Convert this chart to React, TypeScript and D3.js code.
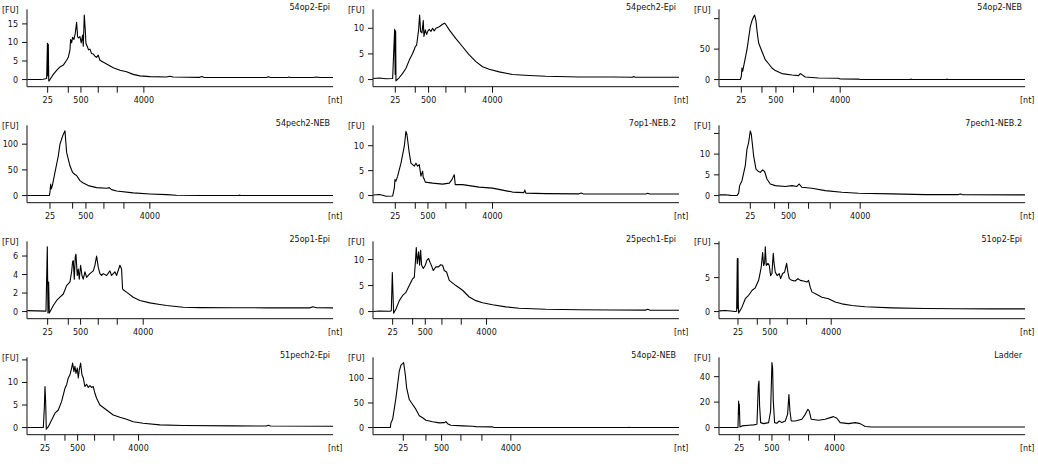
import React, { useEffect } from "react";
import * as d3 from "d3";

type Pt = [number, number];

// ---- DATA ----
const titles = [
  "54op2-Epi", "54pech2-Epi", "54op2-NEB",
  "54pech2-NEB", "7op1-NEB.2", "7pech1-NEB.2",
  "25op1-Epi", "25pech1-Epi", "51op2-Epi",
  "51pech2-Epi", "54op2-NEB", "Ladder",
];

const ladderSizes = [25, 200, 500, 1000, 2000, 4000];
const labeledSizes = [25, 500, 4000];

// migration time (s) of each ladder size, per sample
const ladderTimes: number[][] = [
  [22.15, 25.25, 27.15, 29.75, 32.6, 36.6],
  [22.4, 25.4, 27.4, 30.0, 32.9, 37.0],
  [22.4, 25.5, 27.6, 30.25, 33.25, 37.25],
  [22.5, 25.9, 27.9, 30.6, 33.6, 37.5],
  [22.4, 25.4, 27.3, 30.0, 33.0, 37.0],
  [23.75, 27.4, 29.5, 32.5, 35.75, 40.25],
  [22.15, 25.25, 27.1, 29.75, 32.6, 36.5],
  [22.0, 25.0, 26.9, 29.4, 32.3, 36.1],
  [21.9, 24.8, 26.7, 29.3, 32.2, 35.9],
  [21.75, 24.75, 26.65, 29.2, 32.1, 35.8],
  [23.6, 27.0, 29.35, 32.25, 35.4, 39.75],
  [22.1, 25.1, 27.0, 29.6, 32.5, 36.4],
];

const yMaxes = [19.2, 13.9, 117, 138.7, 14.3, 17.2, 7.7, 13.7, 10.5, 15.8, 145, 56];

const yTicks: number[][] = [
  [0, 5, 10, 15], [0, 5, 10], [0, 50, 100],
  [0, 50, 100], [0, 5, 10], [0, 5, 10, 15],
  [0, 2, 4, 6], [0, 5, 10], [0, 5, 10],
  [0, 5, 10, 15], [0, 50, 100], [0, 20, 40],
];

const trace54op2Epi: Pt[] = [
  [19.1, 0], [21.0, 0], [21.5, 0.1], [22.0, 0.3], [22.12, 9.8], [22.18, 1], [22.25, 9.5], [22.32, -0.4], [22.5, 0],
  [23.0, 1.4], [23.5, 2.5], [24.0, 3.4], [24.5, 3.9], [25.0, 5.2], [25.25, 6], [25.5, 8], [25.6, 10.8], [25.75, 9.9],
  [25.9, 11.4], [26.1, 10.8], [26.3, 12.5], [26.5, 15.4], [26.65, 11.5], [26.8, 11.2], [27.0, 11.6], [27.2, 9.9],
  [27.4, 12], [27.5, 9.0], [27.65, 17.4], [27.8, 13.4], [27.9, 9.8], [28.1, 8.9], [28.3, 8], [28.5, 8.2], [28.75, 7],
  [29.0, 6.9], [29.25, 6.3], [29.5, 6.0], [29.75, 6.6], [30.0, 5.2], [31.0, 4.2], [32.0, 3.2], [33.0, 2.5], [34.0, 2.1],
  [35.0, 1.4], [36.0, 1.0], [37.5, 0.8], [40.0, 0.7], [40.5, 0.9], [41.0, 0.7], [45.0, 0.6], [45.3, 0.8], [45.6, 0.6],
  [55, 0.55], [55.3, 0.75], [55.6, 0.55], [58.2, 0.55], [58.4, 0.7], [58.6, 0.55], [62, 0.55], [62.5, 0.7], [63, 0.55], [65, 0.55],
];

const trace54pech2Epi: Pt[] = [
  [19.1, 0.2], [20, 0.3], [21, 0.15], [22.0, 0.2], [22.3, 9.8], [22.38, 1], [22.45, 9.5], [22.5, -0.25],
  [23, 0.4], [23.5, 1.2], [24, 2.2], [24.5, 3.8], [25, 5.1], [25.4, 6.4], [25.6, 6.7], [25.9, 9.7], [26.05, 12.6],
  [26.2, 9.4], [26.4, 9.1], [26.6, 11.5], [26.7, 8.4], [26.9, 9.7], [27.1, 8.8], [27.3, 9.5], [27.5, 9.8], [27.75, 9.4],
  [28, 10], [28.25, 9.5], [28.5, 10], [29, 10.3], [29.5, 10.8], [29.8, 11], [30, 10.7], [30.5, 9.7], [31.5, 8],
  [32.5, 6.4], [33.5, 4.8], [34.5, 3.5], [35.5, 2.5], [36.5, 2.0], [38, 1.5], [40, 1.0], [42.5, 0.8], [45, 0.65],
  [50, 0.5], [55, 0.5], [58, 0.45], [58.2, 0.6], [58.4, 0.45], [65, 0.45],
];

const trace54op2NEB: Pt[] = [
  [19.1, 0], [22.25, 0], [22.4, 5], [22.5, 19], [22.6, 13.6], [22.75, 21.7], [23.25, 49], [23.75, 87], [24, 96.7],
  [24.25, 103], [24.4, 106], [24.6, 96.7], [24.8, 76], [25, 60], [25.5, 46], [26, 32.6], [26.5, 26], [27, 19],
  [27.5, 14.7], [28.5, 9.8], [30, 7.6], [31, 6.5], [31.25, 9.8], [31.5, 8.2], [32, 4.3], [34, 2.7], [37, 2.2],
  [37.25, 1], [40, 0.8], [40.25, 0], [47.8, 0], [47.9, 1], [48, 0], [53.2, 0], [53.3, 1], [53.4, 0], [65, 0],
];

const trace54pech2NEB: Pt[] = [
  [19.1, 0], [22.4, 0], [22.5, 6.5], [22.6, 22.6], [22.7, 13], [22.85, 19], [23.25, 45], [23.75, 77], [24, 100],
  [24.25, 110], [24.5, 119], [24.75, 126], [25, 84], [25.25, 71], [25.5, 58], [25.9, 45], [26.25, 41], [26.5, 39],
  [27, 29], [27.5, 24.5], [28.25, 19.4], [29.5, 15.5], [31, 14.2], [31.4, 15.5], [31.75, 11.6], [32.5, 9], [35, 5.2],
  [37.5, 3.2], [40, 1.9], [41.5, 0.6], [45, 0], [50.9, 0], [51, 1], [51.1, 0], [65, 0],
];

const trace7op1NEB2: Pt[] = [
  [19.1, 0.1], [20, 0.2], [20.5, 0.05], [21, -0.13], [22, -0.1], [22.25, 1.5], [22.35, 3.2], [22.5, 2.9], [22.75, 3.9],
  [23.25, 6.5], [23.75, 9.9], [24, 12.9], [24.15, 12.2], [24.5, 8.5], [24.75, 6.5], [25, 6.2], [25.25, 5.9], [25.5, 6.5],
  [25.75, 5.9], [26, 6.2], [26.25, 3.9], [26.5, 4.9], [26.6, 3.6], [26.75, 3.3], [26.9, 2.7], [28, 2.5], [29.5, 2.3],
  [30.5, 2.5], [30.9, 3.2], [31.25, 4.2], [31.4, 2.2], [32.5, 2.2], [34, 1.9], [35, 1.7], [37, 1.5], [38.5, 1.1],
  [40, 0.7], [41.7, 0.6], [41.85, 1.1], [42, 0.5], [45, 0.4], [50, 0.35], [50.3, 0.5], [50.6, 0.35], [55, 0.33], [60, 0.33],
  [60.3, 0.48], [60.6, 0.33], [65, 0.33],
];

const trace7pech1NEB2: Pt[] = [
  [19.1, 0.16], [20, 0.2], [20.8, 0.05], [21.75, 0], [22, 0.6], [22.15, 2.4], [22.5, 3.6], [23, 7.2], [23.25, 11.2],
  [23.5, 12.8], [23.75, 15.6], [23.9, 14.8], [24.25, 9.6], [24.6, 6.4], [25, 5.8], [25.25, 5.6], [25.6, 6.2],
  [25.9, 5.8], [26.25, 4], [26.75, 2.8], [27.5, 2.4], [29, 2.2], [30, 2.4], [30.75, 2.2], [31.1, 2.8], [31.5, 2.0],
  [33, 1.76], [35, 1.2], [37.5, 0.8], [40, 0.56], [45, 0.4], [50, 0.24], [55, 0.24], [55.3, 0.4], [55.6, 0.24],
  [65, 0.16],
];

const trace25op1Epi: Pt[] = [
  [19.1, 0.1], [21.9, 0.05], [22.1, 7.0], [22.2, -0.15], [22.3, 3.2], [22.4, -0.15], [23, 0.65], [23.5, 1.2],
  [24, 1.55], [24.5, 1.9], [25, 2.8], [25.5, 3.2], [25.75, 4.3], [25.9, 5.4], [26, 5.5], [26.15, 3.5], [26.3, 5.9],
  [26.4, 6.2], [26.6, 3.9], [26.75, 4.6], [26.9, 3.5], [27.1, 5], [27.3, 3.9], [27.5, 3.5], [27.75, 4.3], [28, 3.7],
  [28.25, 3.9], [28.5, 4.1], [29, 4.4], [29.25, 5], [29.5, 6.0], [29.75, 4.8], [30, 4.1], [30.25, 3.9], [30.5, 4.1],
  [31, 3.9], [31.5, 4.4], [31.75, 3.9], [32.25, 4.3], [32.5, 3.9], [33, 5.0], [33.25, 4.6], [33.4, 2.45], [33.6, 2.3],
  [34, 2.1], [35, 1.55], [36, 1.2], [37.5, 0.94], [39, 0.76], [40, 0.65], [42.5, 0.47], [45, 0.43], [50, 0.42],
  [55, 0.4], [61.5, 0.4], [62, 0.52], [62.5, 0.42], [65, 0.4],
];

const trace25pech1Epi: Pt[] = [
  [19.1, 0], [20, 0.1], [21.65, 0.05], [21.8, 0.2], [21.95, 7.5], [22.05, 3.4], [22.15, -0.3], [22.5, 0.5], [23, 2.1],
  [23.5, 3.1], [24, 3.7], [24.5, 5], [25, 6.3], [25.25, 6.6], [25.4, 9.2], [25.55, 12.3], [25.7, 9.2], [25.9, 11.5],
  [26.05, 8.9], [26.2, 11.8], [26.35, 8.9], [26.6, 8.3], [26.9, 8.9], [27.15, 9.9], [27.4, 10.2], [27.6, 9.5],
  [27.9, 8.6], [28.1, 7.9], [28.5, 8.6], [28.9, 8.6], [29.2, 9.0], [29.5, 8.9], [29.75, 7.9], [30.1, 7.6], [30.5, 6.0],
  [31.5, 5], [32.5, 4.1], [33.5, 2.8], [34.5, 2.1], [35.5, 1.7], [37, 1.3], [39, 0.9], [41, 0.65], [45, 0.45],
  [50, 0.35], [55, 0.3], [60, 0.28], [60.3, 0.45], [60.6, 0.28], [65, 0.25],
];

const trace51op2Epi: Pt[] = [
  [19.1, 0.1], [20, 0.15], [21.5, 0], [21.7, 0.05], [21.8, 7.8], [21.85, 0.5], [21.9, 7.8], [21.95, 1], [22, -0.2],
  [22.5, 0.65], [23, 1.9], [23.5, 2.4], [24, 3.1], [24.5, 3.5], [25, 4.6], [25.25, 5.8], [25.4, 6.6], [25.6, 8.7],
  [25.75, 6.8], [25.9, 7.1], [26, 9.55], [26.15, 6.8], [26.4, 7.1], [26.6, 6.8], [26.8, 5.3], [27, 5.6], [27.2, 8.6],
  [27.3, 7.3], [27.5, 5.8], [27.8, 5.3], [28.1, 5.6], [28.3, 4.85], [28.6, 5.6], [28.9, 5.8], [29.2, 7.1], [29.4, 5.8],
  [29.6, 4.85], [30, 4.6], [30.5, 4.5], [30.9, 4.85], [31.25, 4.6], [31.75, 4.5], [32.25, 4.35], [32.5, 4.6],
  [32.75, 3.6], [33, 2.9], [33.75, 2.5], [34.5, 2.1], [35.5, 1.9], [36.5, 1.4], [37.5, 1.14], [39, 0.9], [41, 0.7],
  [45, 0.55], [50, 0.45], [55, 0.42], [60, 0.4], [65, 0.4],
];

const trace51pech2Epi: Pt[] = [
  [19.1, 0], [21.5, 0], [21.65, 4.3], [21.75, 9.1], [21.85, 5.8], [21.95, -0.37], [22.25, 0.2], [22.75, 1.7],
  [23.25, 3.2], [23.75, 3.9], [24.25, 5.8], [24.75, 8.7], [25, 9.5], [25.25, 11], [25.5, 11.7], [25.75, 13.2],
  [25.9, 14.3], [26.1, 12.4], [26.25, 13.6], [26.4, 12], [26.6, 13.2], [26.75, 11], [26.9, 12.8], [27.1, 14.3],
  [27.3, 11.7], [27.5, 11], [27.75, 9.1], [28, 9.6], [28.25, 8.9], [28.5, 9.3], [28.75, 8.9], [29, 9.1], [29.25, 7.6],
  [29.5, 6.5], [30, 5], [31, 3.9], [32, 2.8], [33, 2.3], [34, 1.85], [35, 1.3], [36.5, 0.96], [39, 0.6], [42.5, 0.45],
  [50, 0.37], [55, 0.35], [55.3, 0.5], [55.6, 0.35], [65, 0.3],
];

const trace54op2NEBb: Pt[] = [
  [19.1, 0], [21.65, 0], [21.75, 10], [22, 17], [22.5, 61], [23, 115], [23.25, 127], [23.5, 130], [23.65, 132],
  [23.9, 108], [24.1, 81], [24.5, 57], [25, 47], [25.5, 37], [26, 24], [26.5, 20], [27, 15], [28, 12], [29, 9.5],
  [29.75, 10], [30, 12], [30.25, 8], [30.75, 4.7], [32.5, 3.4], [34, 2.7], [34.5, 2.0], [37, 1.35], [37.25, 0],
  [57.4, 0], [57.5, 1], [57.6, 0], [65, 0],
];

const traceLadder: Pt[] = [
  [19.1, 0], [21.9, 0], [22.0, 20.9], [22.05, 10.4], [22.1, 18.3], [22.2, 0.5], [22.5, 1.3], [23.5, 1.8], [24.25, 2.1],
  [24.75, 2.6], [24.95, 32.6], [25.05, 36.5], [25.15, 17], [25.3, 3.9], [25.75, 3.1], [26.5, 3.9], [26.8, 13],
  [27.0, 51], [27.1, 47], [27.2, 20.9], [27.4, 3.9], [27.75, 3.4], [28.1, 5.2], [28.5, 3.9], [29, 5.2], [29.35, 10.4],
  [29.55, 26], [29.7, 13], [29.9, 5.2], [30.5, 5.2], [31.5, 6.5], [32, 10.4], [32.4, 14.4], [32.6, 13], [32.9, 6.5],
  [34, 5.7], [35, 6.5], [35.75, 7.8], [36.25, 8.6], [36.75, 7.3], [37.25, 3.9], [38.5, 3.1], [39.5, 3.9], [40.25, 3.1],
  [41, 0.8], [42, 0.5], [65, 0.5],
];

const traces: Pt[][] = [
  trace54op2Epi, trace54pech2Epi, trace54op2NEB,
  trace54pech2NEB, trace7op1NEB2, trace7pech1NEB2,
  trace25op1Epi, trace25pech1Epi, trace51op2Epi,
  trace51pech2Epi, trace54op2NEBb, traceLadder,
];

const timeDomain: [number, number] = [19.05, 65];

// ---- LAYOUT ----
const W = 1038;
const H = 464;
const cellW = 346;
const cellH = 116;
const axisLeft = 27;
const axisRight = 333;
const plotTop = 8.3;
const axisBottom = 86.7;
const FONT = "'DejaVu Sans', Verdana, sans-serif";
const INK = "#111";

function Panel({ idx }: { idx: number }) {
  const col = idx % 3;
  const row = Math.floor(idx / 3);
  const yMax = yMaxes[idx];
  const x = d3.scaleLinear().domain(timeDomain).range([axisLeft, axisRight]);
  const y = d3.scaleLinear().domain([-0.1 * yMax, yMax]).range([axisBottom, plotTop]);
  const line = d3
    .line<Pt>()
    .x((d) => x(d[0]))
    .y((d) => y(d[1]));
  const times = ladderTimes[idx];
  return (
    <g transform={`translate(${col * cellW},${row * cellH})`}>
      <text x={2} y={13} fontSize={8} fontFamily={FONT} fill={INK}>[FU]</text>
      <text x={330} y={10} fontSize={8} fontFamily={FONT} fill={INK} textAnchor="end">
        {titles[idx]}
      </text>
      <line x1={axisLeft} x2={axisLeft} y1={9.3} y2={axisBottom} stroke={INK} strokeWidth={1} />
      <line x1={axisLeft} x2={axisRight} y1={axisBottom} y2={axisBottom} stroke={INK} strokeWidth={1} />
      {yTicks[idx].map((v) => {
        const yy = y(v);
        return (
          <g key={v}>
            <line x1={axisLeft - 5} x2={axisLeft} y1={yy} y2={yy} stroke={INK} strokeWidth={1} />
            {yy > 20 && (
              <text x={18} y={yy + 3} fontSize={8} fontFamily={FONT} fill={INK} textAnchor="end">
                {v}
              </text>
            )}
          </g>
        );
      })}
      {ladderSizes.map((s, i) => {
        const xx = x(times[i]);
        return (
          <g key={s}>
            <line x1={xx} x2={xx} y1={axisBottom} y2={axisBottom + 6} stroke={INK} strokeWidth={1} />
            {labeledSizes.includes(s) && (
              <text x={xx} y={103} fontSize={8} fontFamily={FONT} fill={INK} textAnchor="middle">
                {s}
              </text>
            )}
          </g>
        );
      })}
      <text x={328} y={103} fontSize={8} fontFamily={FONT} fill={INK}>[nt]</text>
      <path d={line(traces[idx]) || ""} fill="none" stroke="#000" strokeWidth={1.1} strokeLinejoin="round" />
    </g>
  );
}

export default function App() {
  useEffect(() => {
    document.body.style.margin = "0";
  }, []);
  return (
    <svg
      width={W}
      height={H}
      viewBox={`0 0 ${W} ${H}`}
      style={{ position: "absolute", left: 0, top: 0, background: "#fff" }}
    >
      <rect width={W} height={H} fill="#fff" />
      {titles.map((_, i) => (
        <Panel key={i} idx={i} />
      ))}
    </svg>
  );
}
